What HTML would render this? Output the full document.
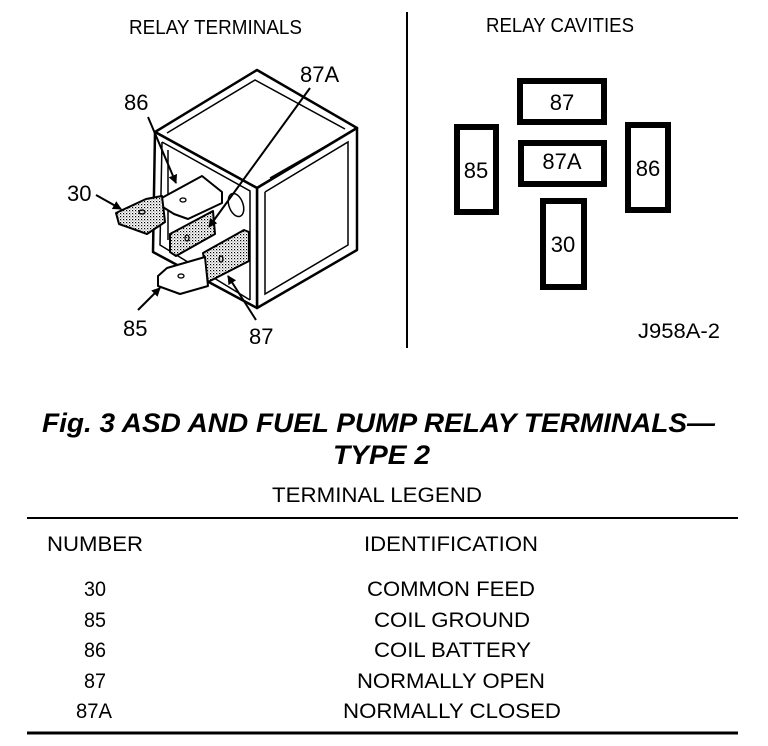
<!DOCTYPE html>
<html><head><style>
html,body{margin:0;padding:0;background:#fff;}
svg{display:block;}
text{font-family:"Liberation Sans",sans-serif;fill:#000;}
</style></head><body>
<svg width="768" height="746" viewBox="0 0 768 746" xmlns="http://www.w3.org/2000/svg">
<defs>
<pattern id="dots" width="3" height="3" patternUnits="userSpaceOnUse">
<rect width="3" height="3" fill="#fff"/><rect x="0" y="0" width="1.2" height="1.2" fill="#000"/><rect x="1.5" y="1.5" width="1" height="1" fill="#555"/>
</pattern>
<marker id="ar" markerWidth="9" markerHeight="9" refX="8" refY="4.5" orient="auto" markerUnits="userSpaceOnUse">
<path d="M0,0 L9,4.5 L0,9 z" fill="#000"/>
</marker>
</defs>

<text x="129" y="34" font-size="20" textLength="173" lengthAdjust="spacingAndGlyphs">RELAY TERMINALS</text>
<text x="486" y="32" font-size="20" textLength="148" lengthAdjust="spacingAndGlyphs">RELAY CAVITIES</text>
<line x1="407" y1="12" x2="407" y2="348" stroke="#000" stroke-width="2"/>

<!-- relay body -->
<g stroke="#000" stroke-width="2.5" fill="#fff" stroke-linejoin="round">
<polygon points="257,70 155,132 257,188 357,128"/>
<polygon points="257,188 357,128 357,250 257,308"/>
<polygon points="155,132 257,188 257,308 153,252"/>
</g>
<g stroke="#000" stroke-width="1.5" fill="none">
<polyline points="167,133 255,80 345,129"/>
<polyline points="162,142 250,191 250,300"/>
<polyline points="162,142 160,245 250,300"/>
<polyline points="265,192 348,142 348,245 265,294 265,192"/>
<line x1="270" y1="178" x2="340" y2="138"/>
<line x1="168" y1="150" x2="168" y2="240"/>
<ellipse cx="236" cy="205" rx="7" ry="12" transform="rotate(-20 236 205)"/>
</g>

<!-- terminals -->
<g stroke="#000" stroke-width="2" stroke-linejoin="round">
<polygon points="170,234 213,211 215,234 176,256 170,252" fill="url(#dots)"/>
<polygon points="158,200 202,176 222,192 222,203 188,219 174,214 158,204" fill="#fff"/>
<polygon points="116,213 146,199 162,196 165,222 147,234 119,224" fill="url(#dots)"/>
<polygon points="203,253 244,230 249,232 249,261 208,282" fill="url(#dots)"/>
<polygon points="158,276 167,268 205,257 208,286 180,294 158,286" fill="#fff"/>
</g>
<g fill="none" stroke="#000" stroke-width="1.3">
<ellipse cx="142" cy="212" rx="3" ry="2"/>
<ellipse cx="183" cy="200" rx="3" ry="2"/>
<ellipse cx="187" cy="238" rx="2" ry="3"/>
<ellipse cx="181" cy="276" rx="3" ry="2"/>
<ellipse cx="221" cy="259" rx="2" ry="3"/>
</g>

<!-- leaders -->
<g stroke="#000" stroke-width="2" fill="none">
<line x1="96" y1="195" x2="121" y2="209" marker-end="url(#ar)"/>
<line x1="148" y1="117" x2="176" y2="183" marker-end="url(#ar)"/>
<line x1="310" y1="88" x2="209" y2="227" marker-end="url(#ar)"/>
<line x1="138" y1="310" x2="160" y2="288" marker-end="url(#ar)"/>
<line x1="256" y1="320" x2="228" y2="276" marker-end="url(#ar)"/>
</g>
<g font-size="22">
<text x="124" y="110">86</text>
<text x="300" y="82">87A</text>
<text x="67" y="201">30</text>
<text x="123" y="336">85</text>
<text x="249" y="344">87</text>
</g>

<!-- cavities -->
<g stroke="#000" stroke-width="6" fill="#fff">
<rect x="520" y="81" width="84" height="41"/>
<rect x="457" y="127" width="39" height="85"/>
<rect x="521" y="143" width="83" height="41"/>
<rect x="628" y="125" width="40" height="85"/>
<rect x="543" y="201" width="41" height="86"/>
</g>
<g font-size="22" text-anchor="middle">
<text x="562" y="110">87</text>
<text x="476" y="178">85</text>
<text x="562" y="169">87A</text>
<text x="648" y="176">86</text>
<text x="563" y="252">30</text>
</g>
<text x="638" y="338" font-size="21" textLength="82" lengthAdjust="spacingAndGlyphs">J958A-2</text>

<!-- caption -->
<text x="42" y="432" font-size="27" font-weight="bold" font-style="italic" textLength="673" lengthAdjust="spacingAndGlyphs">Fig. 3 ASD AND FUEL PUMP RELAY TERMINALS—</text>
<text x="333" y="464" font-size="27" font-weight="bold" font-style="italic" textLength="97" lengthAdjust="spacingAndGlyphs">TYPE 2</text>
<text x="272" y="502" font-size="21" textLength="210" lengthAdjust="spacingAndGlyphs">TERMINAL LEGEND</text>
<line x1="27" y1="518" x2="738" y2="518" stroke="#000" stroke-width="2"/>
<text x="47" y="551" font-size="21" textLength="96" lengthAdjust="spacingAndGlyphs">NUMBER</text>
<text x="364" y="551" font-size="21" textLength="174" lengthAdjust="spacingAndGlyphs">IDENTIFICATION</text>
<g font-size="21">
<text x="84" y="596" textLength="22" lengthAdjust="spacingAndGlyphs">30</text><text x="367" y="596" textLength="168" lengthAdjust="spacingAndGlyphs">COMMON FEED</text>
<text x="84" y="627" textLength="22" lengthAdjust="spacingAndGlyphs">85</text><text x="374" y="627" textLength="156" lengthAdjust="spacingAndGlyphs">COIL GROUND</text>
<text x="84" y="657" textLength="22" lengthAdjust="spacingAndGlyphs">86</text><text x="374" y="657" textLength="157" lengthAdjust="spacingAndGlyphs">COIL BATTERY</text>
<text x="84" y="688" textLength="22" lengthAdjust="spacingAndGlyphs">87</text><text x="357" y="688" textLength="188" lengthAdjust="spacingAndGlyphs">NORMALLY OPEN</text>
<text x="76" y="718" textLength="36" lengthAdjust="spacingAndGlyphs">87A</text><text x="343" y="718" textLength="218" lengthAdjust="spacingAndGlyphs">NORMALLY CLOSED</text>
</g>
<line x1="27" y1="733" x2="738" y2="733" stroke="#000" stroke-width="3"/>
</svg>
</body></html>
